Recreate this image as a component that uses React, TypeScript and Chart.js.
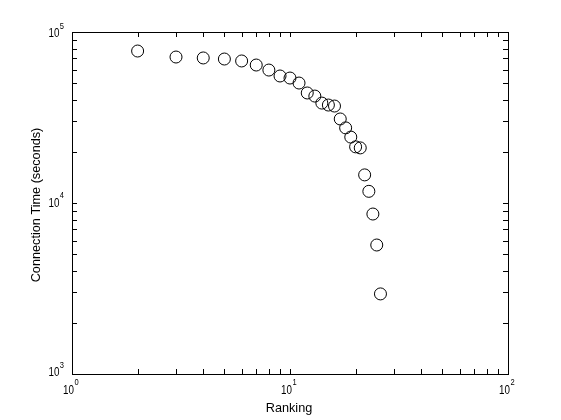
import React, { useEffect, useRef } from "react";
import { Chart, registerables } from "chart.js";

Chart.register(...registerables);

const ranking = [2, 3, 4, 5, 6, 7, 8, 9, 10, 11, 12, 13, 14, 15, 16, 17, 18, 19, 20, 21, 22, 23, 24, 25, 26];
const connectionTime = [
  77400, 71400, 70500, 69500, 67700, 64100, 59900, 55300, 53800, 50300,
  44000, 42200, 38400, 37400, 36900, 31000, 27500, 24300, 21300, 21000,
  14600, 11700, 8620, 5680, 2940,
];
const xTickExponents = [0, 1, 2];
const yTickExponents = [3, 4, 5];
const xTitle = "Ranking";
const yTitle = "Connection Time (seconds)";

const TICK_FONT = "12.6px 'Liberation Sans', Arial, sans-serif";
const EXP_FONT = "8.4px 'Liberation Sans', Arial, sans-serif";
const TITLE_FONT = "12.7px 'Liberation Sans', Arial, sans-serif";
const NARROW = 0.78;

function drawText(ctx: CanvasRenderingContext2D, text: string, x: number, y: number, font: string, align: CanvasTextAlign, sx: number) {
  ctx.save();
  ctx.translate(x, y);
  ctx.scale(sx, 1);
  ctx.font = font;
  ctx.textAlign = align;
  ctx.textBaseline = "alphabetic";
  ctx.fillText(text, 0, 0);
  ctx.restore();
}

const axesPlugin = {
  id: "matlabAxes",
  afterDraw(chart: any) {
    const { ctx, chartArea: a, scales } = chart;
    const xs = scales.x;
    const ys = scales.y;
    ctx.save();
    ctx.strokeStyle = "#000";
    ctx.fillStyle = "#000";
    ctx.lineWidth = 1;
    ctx.strokeRect(a.left + 0.5, a.top + 0.5, a.right - a.left, a.bottom - a.top);

    const len = 5;
    ctx.beginPath();
    for (let d = xTickExponents[0]; d < xTickExponents[xTickExponents.length - 1]; d++) {
      for (let m = 1; m <= 9; m++) {
        const v = m * Math.pow(10, d);
        const px = Math.round(xs.getPixelForValue(v)) + 0.5;
        ctx.moveTo(px, a.bottom);
        ctx.lineTo(px, a.bottom - len);
        ctx.moveTo(px, a.top);
        ctx.lineTo(px, a.top + len);
      }
    }
    for (let d = yTickExponents[0]; d < yTickExponents[yTickExponents.length - 1]; d++) {
      for (let m = 1; m <= 9; m++) {
        const v = m * Math.pow(10, d);
        const py = Math.round(ys.getPixelForValue(v)) + 0.5;
        ctx.moveTo(a.left, py);
        ctx.lineTo(a.left + len, py);
        ctx.moveTo(a.right, py);
        ctx.lineTo(a.right - len, py);
      }
    }
    ctx.stroke();

    // x tick labels
    for (const e of xTickExponents) {
      const px = xs.getPixelForValue(Math.pow(10, e));
      drawText(ctx, "10", px + 2, a.bottom + 19.7, TICK_FONT, "right", NARROW);
      drawText(ctx, String(e), px + 2.5, a.bottom + 10.7, EXP_FONT, "left", 0.9);
    }
    // y tick labels
    for (const e of yTickExponents) {
      const py = ys.getPixelForValue(Math.pow(10, e));
      const frac = (a.bottom - py) / (a.bottom - a.top);
      const base = py + 2 + 3.3 * frac;
      drawText(ctx, "10", a.left - 12.6, base, TICK_FONT, "right", NARROW);
      drawText(ctx, String(e), a.left - 12.3, base - 8.5, EXP_FONT, "left", 0.9);
    }

    // titles
    ctx.font = TITLE_FONT;
    ctx.textAlign = "center";
    ctx.textBaseline = "alphabetic";
    ctx.fillText(xTitle, (a.left + a.right) / 2 - 1, a.bottom + 37.5);
    ctx.save();
    ctx.translate(a.left - 32.5, (a.top + a.bottom) / 2 + 2);
    ctx.rotate(-Math.PI / 2);
    ctx.fillText(yTitle, 0, 0);
    ctx.restore();

    ctx.restore();
  },
};

export default function App() {
  const canvasRef = useRef<HTMLCanvasElement | null>(null);

  useEffect(() => {
    const canvas = canvasRef.current;
    if (!canvas) return;
    const chart = new Chart(canvas, {
      type: "scatter",
      data: {
        datasets: [
          {
            data: ranking.map((r, i) => ({ x: r, y: connectionTime[i] })),
            pointStyle: "circle",
            pointRadius: 6,
            pointHoverRadius: 6,
            borderColor: "#000",
            borderWidth: 1,
            backgroundColor: "rgba(0,0,0,0)",
            showLine: false,
          },
        ],
      },
      options: {
        responsive: false,
        animation: false,
        devicePixelRatio: 1,
        layout: { padding: { left: 72, right: 53, top: 32, bottom: 46 } },
        plugins: {
          legend: { display: false },
          tooltip: { enabled: false },
          title: { display: false },
        },
        events: [],
        scales: {
          x: { type: "logarithmic", min: 1, max: 100, display: false },
          y: { type: "logarithmic", min: 1000, max: 100000, display: false },
        },
      },
      plugins: [axesPlugin],
    });
    return () => chart.destroy();
  }, []);

  return (
    <div style={{ position: "absolute", left: 0, top: 0, width: 561, height: 420, background: "#fff" }}>
      <canvas ref={canvasRef} width={561} height={420} style={{ display: "block" }} />
    </div>
  );
}
